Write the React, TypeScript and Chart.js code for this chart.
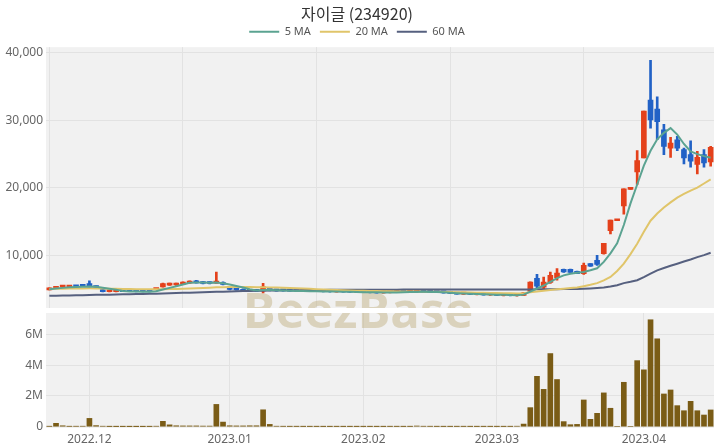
import React, { useEffect, useRef } from 'react';
import { Chart, registerables } from 'chart.js';

Chart.register(...registerables);

const dates: string[] = [
  '2022.11.23','2022.11.24','2022.11.25','2022.11.28','2022.11.29','2022.11.30',
  '2022.12.01','2022.12.02','2022.12.05','2022.12.06','2022.12.07','2022.12.08','2022.12.09','2022.12.12','2022.12.13','2022.12.14','2022.12.15','2022.12.16','2022.12.19','2022.12.20','2022.12.21','2022.12.22','2022.12.23','2022.12.26','2022.12.27','2022.12.28','2022.12.29',
  '2023.01.02','2023.01.03','2023.01.04','2023.01.05','2023.01.06','2023.01.09','2023.01.10','2023.01.11','2023.01.12','2023.01.13','2023.01.16','2023.01.17','2023.01.18','2023.01.19','2023.01.20','2023.01.25','2023.01.26','2023.01.27','2023.01.30','2023.01.31',
  '2023.02.01','2023.02.02','2023.02.03','2023.02.06','2023.02.07','2023.02.08','2023.02.09','2023.02.10','2023.02.13','2023.02.14','2023.02.15','2023.02.16','2023.02.17','2023.02.20','2023.02.21','2023.02.22','2023.02.23','2023.02.24','2023.02.27','2023.02.28',
  '2023.03.02','2023.03.03','2023.03.06','2023.03.07','2023.03.08','2023.03.09','2023.03.10','2023.03.13','2023.03.14','2023.03.15','2023.03.16','2023.03.17','2023.03.20','2023.03.21','2023.03.22','2023.03.23','2023.03.24','2023.03.27','2023.03.28','2023.03.29','2023.03.30','2023.03.31',
  '2023.04.03','2023.04.04','2023.04.05','2023.04.06','2023.04.07','2023.04.10','2023.04.11','2023.04.12','2023.04.13','2023.04.14','2023.04.17',
];

const open: number[] = [
  4900,5150,5300,5300,5420,5480,5850,5450,4950,4620,4620,4720,4700,4680,4650,4640,4950,5350,5600,5620,
  5750,5900,6230,6100,6050,5900,6000,5350,5100,5000,4950,4900,4750,5150,4950,4800,4780,4750,4730,4720,
  4700,4680,4650,4600,4640,4620,4560,4580,4540,4500,4460,4500,4560,4600,4580,4640,4650,4580,4550,4520,
  4450,4380,4280,4350,4230,4260,4150,4180,4080,4120,4050,4100,4700,6600,5300,6000,6700,7950,7950,7650,
  7300,8780,9260,10250,13670,15140,17340,19790,22380,24430,33000,31680,28600,25900,27130,25660,24930,23460,24930,23840,
];
const high: number[] = [
  5200,5420,5420,5400,5480,5560,6230,5500,5000,4750,4760,4760,4720,4700,4700,4680,5100,5900,5900,5900,
  6100,6250,6300,6150,6100,7550,6100,5400,5150,5050,5000,4950,5880,5200,5000,4850,4820,4800,4780,4760,
  4750,4720,4700,4680,4680,4650,4620,4620,4600,4560,4520,4580,4620,4650,4640,4720,4680,4620,4600,4560,
  4500,4420,4380,4400,4300,4300,4220,4220,4150,4150,4100,4500,6100,7200,6800,7550,8050,8000,7980,7700,
  8870,8800,10000,11800,15240,15140,19880,19790,25520,31390,38880,33490,29420,27470,27620,25900,26980,25410,25660,26150,
];
const low: number[] = [
  4880,5100,5250,5250,5330,5380,5350,5200,4600,4600,4600,4620,4620,4600,4600,4590,4900,5300,5550,5560,
  5700,5850,5900,5800,5800,5850,5650,4900,4850,4650,4650,4650,4450,4750,4700,4700,4700,4680,4680,4650,
  4640,4600,4580,4580,4560,4520,4500,4480,4470,4420,4400,4460,4500,4540,4520,4580,4560,4500,4480,4420,
  4350,4250,4240,4200,4150,4120,4080,4050,4000,4000,3980,4080,4650,5100,4950,5850,6330,7500,7480,7300,
  7200,8380,8530,10200,13180,15140,16120,19790,20530,24430,28830,27130,24930,24530,25520,23550,23070,22080,23070,23210,
];
const close: number[] = [
  5150,5350,5360,5380,5360,5420,5450,5250,4650,4700,4700,4650,4660,4630,4620,4620,5050,5850,5850,5850,
  6050,6200,5950,5850,5850,6080,5700,4960,4900,4700,4700,4700,5350,4800,4750,4750,4730,4720,4700,4690,
  4680,4650,4620,4650,4600,4550,4580,4520,4490,4450,4480,4550,4600,4570,4620,4660,4580,4540,4520,4450,
  4380,4280,4350,4230,4270,4150,4180,4080,4120,4040,4060,4450,6050,5450,6050,7050,7400,7550,7500,7320,
  8530,8400,8680,11800,15240,15140,19880,19790,24050,31390,30070,29820,26150,26630,25900,24430,23950,24530,23700,26000,
];
const volume: number[] = [
  20000,220000,60000,20000,25000,30000,540000,70000,30000,10000,8000,8000,6000,6000,6000,10000,30000,350000,120000,60000,
  50000,50000,50000,40000,40000,1450000,300000,60000,50000,50000,60000,60000,1100000,150000,30000,20000,15000,15000,12000,12000,
  12000,10000,10000,12000,10000,10000,10000,10000,10000,10000,10000,15000,15000,12000,15000,45000,25000,20000,15000,12000,
  12000,15000,15000,12000,12000,12000,12000,12000,12000,15000,30000,170000,1240000,3280000,2430000,4760000,3070000,330000,130000,150000,
  1740000,480000,870000,2200000,1200000,0,2890000,0,4300000,3700000,6960000,5720000,2130000,2390000,1370000,1040000,1650000,1040000,760000,1090000,
];
const ma5: number[] = [
  5000,5100,5200,5280,5340,5380,5390,5360,5220,5080,4930,4740,4680,4650,4640,4630,4700,4950,5200,5440,
  5690,5960,6000,5980,5960,5980,5870,5690,5480,5250,5000,4800,4880,4870,4860,4800,4760,4740,4730,4710,
  4690,4670,4660,4650,4640,4620,4590,4570,4560,4540,4500,4510,4530,4560,4580,4600,4610,4600,4580,4540,
  4480,4420,4360,4320,4290,4260,4220,4190,4170,4140,4110,4200,4650,5100,5550,6100,6650,7050,7300,7450,
  7560,7800,8100,9050,10300,11800,14500,17700,20500,23300,25500,27200,28150,28850,27900,26500,25400,25000,24700,24450,
];
const ma20: number[] = [
  5050,5060,5080,5100,5110,5120,5130,5120,5100,5080,5060,5040,5020,5000,4990,4980,4980,5000,5020,5050,
  5080,5110,5150,5190,5230,5280,5310,5330,5340,5330,5320,5300,5290,5270,5250,5220,5190,5150,5110,5060,
  5010,4960,4920,4880,4840,4800,4780,4760,4740,4720,4710,4690,4680,4670,4660,4650,4640,4630,4610,4600,
  4580,4560,4540,4520,4490,4470,4450,4430,4410,4390,4380,4420,4550,4650,4760,4870,4980,5080,5170,5260,
  5450,5650,5900,6300,6820,7700,8780,10200,11720,13500,15140,16200,17090,17850,18560,19100,19600,20050,20650,21260,
];
const ma60: number[] = [
  4030,4050,4060,4080,4100,4120,4140,4170,4190,4200,4220,4240,4260,4280,4300,4320,4340,4370,4400,4430,
  4460,4490,4520,4550,4580,4610,4640,4670,4700,4720,4740,4760,4780,4800,4820,4840,4850,4860,4870,4880,
  4890,4900,4905,4910,4915,4920,4925,4930,4930,4935,4935,4940,4940,4945,4945,4950,4950,4950,4955,4955,
  4955,4960,4960,4960,4960,4955,4955,4950,4950,4950,4955,4960,4970,4980,4990,5000,5010,5020,5030,5040,
  5070,5120,5190,5260,5400,5600,5900,6100,6330,6800,7300,7800,8150,8480,8780,9100,9400,9750,10050,10400,
];

const priceTicks = [10000, 20000, 30000, 40000];
const volumeTicks = [0, 2000000, 4000000, 6000000];
const priceGridIdx = [0, 20, 40, 60, 80];
const titleText = '자이글 (234920)';
const maLabels = ['5 MA', '20 MA', '60 MA'];

const UP = '#e4411b';
const DOWN = '#2262c6';
const MA_COLORS = ['#5ba391', '#e0c56a', '#56607f'];
const VOL_COLOR = '#7a5c16';
const GRID = '#e2e2e2';
const PLOT_BG = '#f1f1f1';
const TICK_COLOR = '#666';
const FONT = "'Noto Sans', sans-serif";

const monthIdx = dates
  .map((d, i) => (i > 0 && d.slice(0, 7) !== dates[i - 1].slice(0, 7) ? i : -1))
  .filter((i) => i >= 0);

const bgPlugin = {
  id: 'plotBg',
  beforeDraw(chart: any) {
    const { ctx, chartArea: a } = chart;
    ctx.save();
    ctx.fillStyle = PLOT_BG;
    ctx.fillRect(a.left, a.top, a.right - a.left, a.bottom - a.top);
    ctx.restore();
  },
};

const makeWatermark = (offsetY: number) => ({
  id: 'wm',
  beforeDatasetsDraw(chart: any) {
    const { ctx, chartArea: a } = chart;
    ctx.save();
    ctx.beginPath();
    ctx.rect(a.left, a.top, a.right - a.left, a.bottom - a.top);
    ctx.clip();
    ctx.font = "bold 49px 'Open Sans', sans-serif";
    ctx.fillStyle = 'rgba(190,172,125,0.45)';
    ctx.textAlign = 'center';
    ctx.textBaseline = 'alphabetic';
    ctx.fillText('BeezBase', 358, 328 - offsetY);
    ctx.restore();
  },
});

export default function App() {
  const topRef = useRef<HTMLCanvasElement>(null);
  const botRef = useRef<HTMLCanvasElement>(null);

  useEffect(() => {
    const colors = close.map((c, i) => (c >= open[i] ? UP : DOWN));
    const tickFont = { size: 12, family: FONT };

    const top = new Chart(topRef.current as HTMLCanvasElement, {
      type: 'bar',
      data: {
        labels: dates,
        datasets: [
          { type: 'line', label: maLabels[0], data: ma5, borderColor: MA_COLORS[0], backgroundColor: MA_COLORS[0], borderWidth: 2, pointRadius: 0, order: 0 } as any,
          { type: 'line', label: maLabels[1], data: ma20, borderColor: MA_COLORS[1], backgroundColor: MA_COLORS[1], borderWidth: 2, pointRadius: 0, order: 1 } as any,
          { type: 'line', label: maLabels[2], data: ma60, borderColor: MA_COLORS[2], backgroundColor: MA_COLORS[2], borderWidth: 2, pointRadius: 0, order: 2 } as any,
          { type: 'bar', label: 'body', data: open.map((o, i) => [o, close[i]]), backgroundColor: colors, grouped: false, barThickness: 5, minBarLength: 2, order: 3 } as any,
          { type: 'bar', label: 'wick', data: low.map((l, i) => [l, high[i]]), backgroundColor: colors, grouped: false, barThickness: 2, order: 4 } as any,
        ],
      },
      options: {
        responsive: false,
        animation: false,
        events: [],
        layout: { padding: { left: 0, right: 6, top: 0, bottom: 0 } },
        plugins: {
          title: {
            display: true,
            text: titleText,
            color: '#333',
            font: { size: 16, family: "'Noto Sans CJK KR', sans-serif", weight: 'normal' },
            padding: { top: 4, bottom: -6 },
          },
          legend: {
            display: true,
            position: 'top',
            labels: {
              boxWidth: 30,
              boxHeight: 2,
              padding: 9,
              color: '#555',
              font: { size: 11, family: FONT },
              generateLabels: (chart: any) =>
                chart.data.datasets.slice(0, 3).map((d: any, i: number) => ({
                  text: d.label,
                  fillStyle: d.borderColor,
                  strokeStyle: d.borderColor,
                  lineWidth: 0,
                  hidden: false,
                  datasetIndex: i,
                  fontColor: '#555',
                })),
            },
          },
          tooltip: { enabled: false },
        },
        scales: {
          x: {
            type: 'category',
            offset: true,
            grid: { offset: false, color: GRID, drawTicks: false },
            border: { display: false },
            ticks: { display: false, autoSkip: false },
            afterBuildTicks: (s: any) => {
              s.ticks = priceGridIdx.map((v) => ({ value: v }));
            },
            afterFit: (s: any) => {
              s.height = 2;
              s.paddingLeft = 0;
              s.paddingRight = 0;
            },
          },
          y: {
            min: 2220,
            max: 40830,
            grid: { color: GRID, drawTicks: false },
            border: { display: false },
            ticks: {
              padding: 3,
              color: TICK_COLOR,
              font: tickFont,
              callback: (v: any) => Number(v).toLocaleString('en-US'),
            },
            afterBuildTicks: (s: any) => {
              s.ticks = priceTicks.map((v) => ({ value: v }));
            },
            afterFit: (s: any) => {
              s.width = 46;
              s.paddingTop = 0;
              s.paddingBottom = 0;
            },
          },
        },
      } as any,
      plugins: [bgPlugin, makeWatermark(0)],
    });

    const bot = new Chart(botRef.current as HTMLCanvasElement, {
      type: 'bar',
      data: {
        labels: dates,
        datasets: [
          { label: 'Volume', data: volume, backgroundColor: VOL_COLOR, barThickness: 5 },
        ],
      },
      options: {
        responsive: false,
        animation: false,
        events: [],
        layout: { padding: { left: 0, right: 6, top: 3, bottom: 0 } },
        plugins: {
          legend: { display: false },
          title: { display: false },
          tooltip: { enabled: false },
        },
        scales: {
          x: {
            type: 'category',
            offset: true,
            grid: { offset: false, color: GRID, drawTicks: false },
            border: { display: false },
            ticks: {
              autoSkip: false,
              maxRotation: 0,
              padding: 4,
              color: TICK_COLOR,
              font: tickFont,
              callback: (v: any) => dates[v].slice(0, 7),
            },
            afterBuildTicks: (s: any) => {
              s.ticks = monthIdx.map((v) => ({ value: v }));
            },
            afterFit: (s: any) => {
              s.height = 20;
              s.paddingLeft = 0;
              s.paddingRight = 0;
            },
          },
          y: {
            min: -85000,
            max: 7400000,
            grid: { color: GRID, drawTicks: false },
            border: { display: false },
            ticks: {
              padding: 3,
              color: TICK_COLOR,
              font: tickFont,
              callback: (v: any) => (v === 0 ? '0' : v / 1000000 + 'M'),
            },
            afterBuildTicks: (s: any) => {
              s.ticks = volumeTicks.map((v) => ({ value: v }));
            },
            afterFit: (s: any) => {
              s.width = 46;
              s.paddingTop = 0;
              s.paddingBottom = 0;
            },
          },
        },
      } as any,
      plugins: [bgPlugin, makeWatermark(310)],
    });

    return () => {
      top.destroy();
      bot.destroy();
    };
  }, []);

  return (
    <div style={{ position: 'fixed', left: 0, top: 0, width: 720, height: 448, background: '#fff' }}>
      <canvas ref={topRef} width={720} height={310} style={{ position: 'absolute', left: 0, top: 0 }} />
      <canvas ref={botRef} width={720} height={138} style={{ position: 'absolute', left: 0, top: 310 }} />
    </div>
  );
}
